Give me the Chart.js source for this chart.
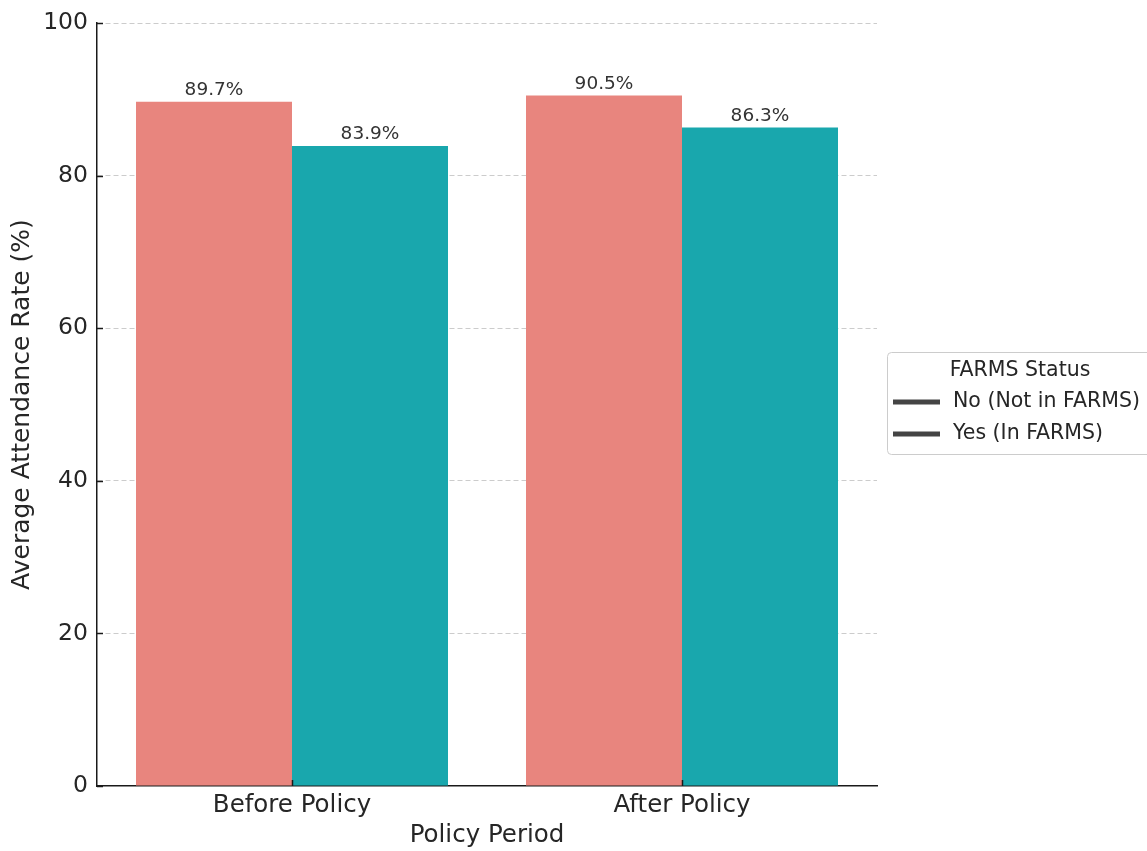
<!DOCTYPE html>
<html>
<head>
<meta charset="utf-8">
<script src="https://cdn.jsdelivr.net/npm/chart.js@4.4.1/dist/chart.umd.min.js"></script>
<style>
  html, body { margin: 0; padding: 0; background: #ffffff; }
  #wrap { width: 1147px; height: 851px; position: relative; }
</style>
</head>
<body>
<div id="wrap"><canvas id="chart" width="1147" height="851"></canvas></div>
<script>
// Attendance data by policy period and FARMS status
const periods = ['Before Policy', 'After Policy'];
const seriesNames = ['No (Not in FARMS)', 'Yes (In FARMS)'];
const notInFarms = [89.7, 90.5];
const inFarms = [83.9, 86.3];
const yTicks = [0, 20, 40, 60, 80, 100];
const legendTitle = 'FARMS Status';

const FONT = 'DejaVu Sans';
const TEXT = '#262626';

// Value labels above each bar
const barLabels = {
  id: 'barLabels',
  afterDatasetsDraw(chart) {
    const ctx = chart.ctx;
    ctx.save();
    ctx.font = '18.5px "' + FONT + '"';
    ctx.fillStyle = '#333333';
    ctx.textAlign = 'center';
    ctx.textBaseline = 'bottom';
    chart.data.datasets.forEach((ds, i) => {
      chart.getDatasetMeta(i).data.forEach((bar, j) => {
        ctx.fillText(ds.data[j].toFixed(1) + '%', bar.x, bar.y - 2);
      });
    });
    ctx.restore();
  }
};

// Inward tick marks on both axes
const inwardTicks = {
  id: 'inwardTicks',
  afterDraw(chart) {
    const ctx = chart.ctx;
    const x = chart.scales.x, y = chart.scales.y;
    ctx.save();
    ctx.strokeStyle = '#1a1a1a';
    ctx.lineWidth = 1.5;
    yTicks.forEach(v => {
      const py = Math.round(y.getPixelForValue(v)) + 0.5;
      ctx.beginPath();
      ctx.moveTo(x.left, py);
      ctx.lineTo(x.left + 6, py);
      ctx.stroke();
    });
    periods.forEach((p, i) => {
      const px = Math.round(x.getPixelForValue(i)) + 0.5;
      ctx.beginPath();
      ctx.moveTo(px, y.bottom);
      ctx.lineTo(px, y.bottom - 6);
      ctx.stroke();
    });
    ctx.restore();
  }
};

// Legend box placed to the right of the plot area
const sideLegend = {
  id: 'sideLegend',
  afterDraw(chart) {
    const ctx = chart.ctx;
    const area = chart.chartArea;
    const bx = area.right + 10, by = 352, bw = 290, bh = 102, r = 4;
    ctx.save();
    ctx.fillStyle = 'rgba(255,255,255,0.8)';
    ctx.strokeStyle = '#cccccc';
    ctx.lineWidth = 1;
    ctx.beginPath();
    ctx.roundRect(bx + 0.5, by + 0.5, bw, bh, r);
    ctx.fill();
    ctx.stroke();

    ctx.font = '20.5px "' + FONT + '"';
    ctx.fillStyle = TEXT;
    ctx.textAlign = 'center';
    ctx.textBaseline = 'middle';
    ctx.fillText(legendTitle, bx + 133, by + 19);

    ctx.textAlign = 'left';
    chart.data.datasets.forEach((ds, i) => {
      const ly = by + 50 + i * 32;
      ctx.strokeStyle = '#444444';
      ctx.lineWidth = 5;
      ctx.beginPath();
      ctx.moveTo(bx + 6, ly);
      ctx.lineTo(bx + 53, ly);
      ctx.stroke();
      ctx.fillStyle = TEXT;
      ctx.fillText(ds.label, bx + 66, ly);
    });
    ctx.restore();
  }
};

new Chart(document.getElementById('chart'), {
  type: 'bar',
  data: {
    labels: periods,
    datasets: [
      { label: seriesNames[0], data: notInFarms, backgroundColor: '#e8857e', borderWidth: 0 },
      { label: seriesNames[1], data: inFarms, backgroundColor: '#19a7ad', borderWidth: 0 }
    ]
  },
  options: {
    responsive: false,
    animation: false,
    devicePixelRatio: 1,
    layout: { padding: { top: 19, right: 270, bottom: 0, left: 0 } },
    datasets: { bar: { categoryPercentage: 0.8, barPercentage: 1.0 } },
    plugins: {
      legend: { display: false },
      title: { display: false },
      tooltip: { enabled: false }
    },
    scales: {
      x: {
        grid: { display: false, drawTicks: false },
        border: { display: true, color: '#1a1a1a', width: 1.5 },
        ticks: { color: TEXT, font: { family: FONT, size: 24.5 }, padding: 5 },
        title: { display: true, text: 'Policy Period', color: TEXT, font: { family: FONT, size: 24.5 }, padding: { top: 0, bottom: 1 } },
        afterFit(s) { s.height = 65; }
      },
      y: {
        min: 0,
        max: 100,
        afterBuildTicks(s) { s.ticks = yTicks.map(v => ({ value: v })); },
        grid: {
          drawTicks: false,
          color: c => (c.tick && c.tick.value === 0) ? 'rgba(0,0,0,0)' : '#cccccc',
          lineWidth: 1
        },
        border: { display: true, color: '#1a1a1a', width: 1.5, dash: [5, 3] },
        ticks: { color: TEXT, font: { family: FONT, size: 23.5 }, padding: 9 },
        title: { display: true, text: 'Average Attendance Rate (%)', color: TEXT, font: { family: FONT, size: 25 }, padding: { top: 7, bottom: 0 } },
        afterFit(s) { s.width = 97; }
      }
    }
  },
  plugins: [barLabels, inwardTicks, sideLegend]
});
</script>
</body>
</html>
